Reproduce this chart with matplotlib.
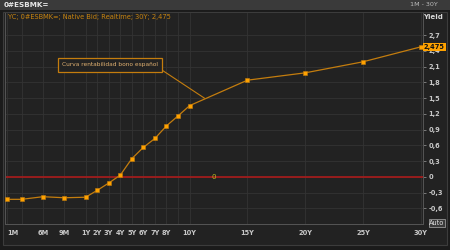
import numpy as np
import matplotlib
matplotlib.use("Agg")
import matplotlib.pyplot as plt
from matplotlib.patches import Rectangle

# ---- data ----
maturities = [1/12, 0.25, 0.5, 0.75, 1, 2, 3, 4, 5, 6, 7, 8, 9, 10, 15, 20, 25, 30]
yields = [-0.43, -0.43, -0.38, -0.40, -0.39, -0.26, -0.12, 0.03, 0.345, 0.56,
          0.73, 0.97, 1.16, 1.355, 1.84, 1.98, 2.19, 2.475]
tick_pos = [1/12, 0.5, 0.75, 1, 2, 3, 4, 5, 6, 7, 8, 10, 15, 20, 25, 30]
tick_labels = ["1M", "6M", "9M", "1Y", "2Y", "3Y", "4Y", "5Y", "6Y", "7Y", "8Y",
               "10Y", "15Y", "20Y", "25Y", "30Y"]
y_ticks = [-0.6, -0.3, 0, 0.3, 0.6, 0.9, 1.2, 1.5, 1.8, 2.1, 2.4, 2.7]
last_label = "2,475"
legend_text = "YC; 0#ESBMK=; Native Bid; Realtime; 30Y; 2,475"
title_text = "0#ESBMK="
annot_text = "Curva rentabilidad bono español"

K = 7.38  # stretch of the sub-1Y part


def fwd(t):
    t = np.asarray(t, dtype=float)
    return np.where(t <= 1, K * t, K + (t - 1))


def inv(u):
    u = np.asarray(u, dtype=float)
    return np.where(u <= K, u / K, u - K + 1)


W, H = 450, 250
fig = plt.figure(figsize=(4.5, 2.5), dpi=100, facecolor="#1b1b1b")

# top title bar and panel
fig.patches.append(Rectangle((0, 1 - 10 / H), 1, 10 / H, transform=fig.transFigure,
                             facecolor="#3a3a3a", edgecolor="none", zorder=-5))
fig.patches.append(Rectangle((3 / W, 1 - 245 / H), 444 / W, 233 / H, transform=fig.transFigure,
                             facecolor="#222222", edgecolor="#3c3c3c", linewidth=0.8, zorder=-5))
fig.text(4 / W, 1 - 5 / H, title_text, color="#e8e8e8", fontsize=5.2, va="center",
         ha="left", fontweight="bold")
fig.text(438 / W, 1 - 5 / H, "1M - 30Y", color="#bbbbbb", fontsize=4.6, va="center", ha="right")
fig.text(433 / W, 1 - 16.5 / H, "Yield", color="#d8d8d8", fontsize=5, va="center",
         ha="center", fontweight="bold")
fig.text(8 / W, 1 - 17 / H, legend_text, color="#c88410", fontsize=4.8, va="center", ha="left")

ax = fig.add_axes([5 / W, 1 - 224 / H, 418 / W, 211 / H])
ax.set_zorder(2)
ax.set_facecolor("#222222")
ax.set_xscale("function", functions=(fwd, inv))
ax.set_xlim(0.0556, 30.19)
ax.set_ylim(-0.90, 3.12)

ax.plot(maturities, yields, color="#c47d0e", linewidth=0.9, zorder=3)
ax.plot(maturities, yields, linestyle="none", marker="s", markersize=3.2,
        markerfacecolor="#ffa200", markeredgecolor="#c47d0e", markeredgewidth=0.4, zorder=4)

ax.axhline(0, color="#a01c1c", linewidth=1.3, zorder=2)
ax.text(0.5, 0.0, "0", transform=ax.get_yaxis_transform(), color="#b8c020",
        fontsize=5, ha="center", va="center", zorder=5)

# grid
ax.set_xticks(tick_pos)
ax.set_xticklabels(tick_labels)
ax.set_xticks(maturities, minor=True)
ax.set_yticks(y_ticks)
ax.set_yticklabels([("%g" % v).replace(".", ",") for v in y_ticks])
ax.grid(True, which="both", axis="x", color="#333333", linewidth=0.6)
ax.grid(True, which="major", axis="y", color="#333333", linewidth=0.6)
ax.set_axisbelow(True)

ax.yaxis.tick_right()
ax.tick_params(axis="y", which="major", length=2.5, width=0.6, color="#888888",
               labelcolor="#c8c8c8", labelsize=4.8, pad=1.5)
ax.tick_params(axis="x", which="both", length=0, labelcolor="#c8c8c8", labelsize=4.8, pad=4)
for lbl in ax.get_xticklabels():
    lbl.set_fontweight("bold")
ax.get_xticklabels()[0].set_horizontalalignment("left")
for lbl in ax.get_yticklabels():
    lbl.set_fontweight("bold")

for side in ["left", "bottom", "right"]:
    ax.spines[side].set_color("#555555")
    ax.spines[side].set_linewidth(0.7)
ax.spines["top"].set_visible(False)

# last value label
ax.text(1.002, yields[-1], last_label, transform=ax.get_yaxis_transform(), color="#111111",
        fontsize=4.8, ha="left", va="center", fontweight="bold", zorder=6,
        bbox=dict(boxstyle="square,pad=0.12", facecolor="#ffa200", edgecolor="none"),
        clip_on=False)

# Auto box
fig.text(437 / W, 1 - 223 / H, "Auto", color="#e0e0e0", fontsize=4.8, ha="center",
         va="center", bbox=dict(boxstyle="square,pad=0.12", facecolor="#3a3a3a",
                                edgecolor="#aaaaaa", linewidth=0.5))

# annotation
ax.annotate(annot_text, xy=(11.3, 1.495), xycoords="data",
            xytext=(0.251, 0.754), textcoords="axes fraction",
            color="#e0b070", fontsize=4.2, ha="center", va="center",
            bbox=dict(boxstyle="square,pad=0.75", facecolor="#222222",
                      edgecolor="#c47d0e", linewidth=0.9),
            arrowprops=dict(arrowstyle="-", color="#c47d0e", linewidth=0.8,
                            relpos=(1, 0), shrinkA=0, shrinkB=0), zorder=6)

fig.savefig("out.png", dpi=100, facecolor=fig.get_facecolor())
